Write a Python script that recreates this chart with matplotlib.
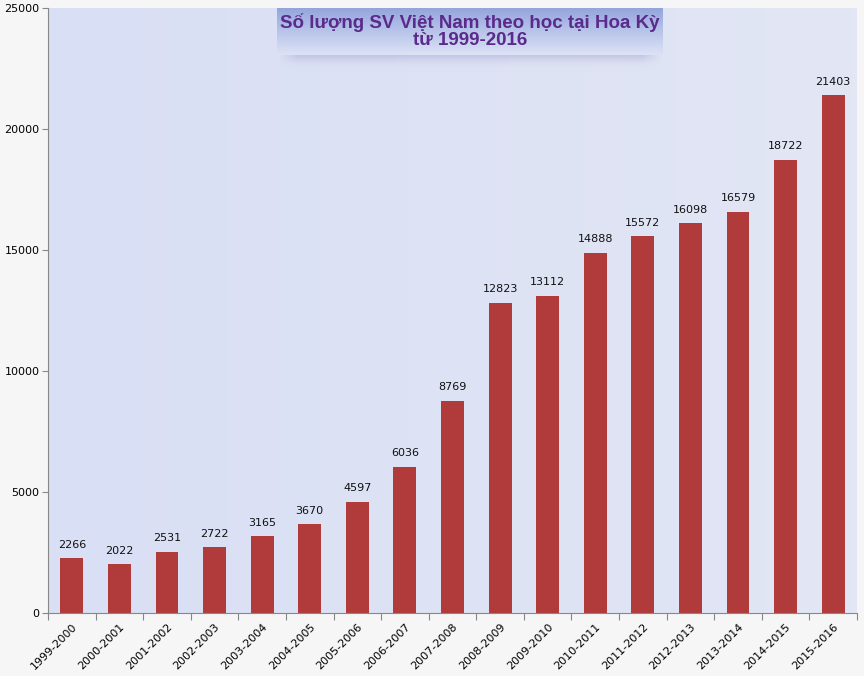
import numpy as np
import matplotlib
matplotlib.use("Agg")
import matplotlib.pyplot as plt

# data
years = ["1999-2000", "2000-2001", "2001-2002", "2002-2003", "2003-2004",
         "2004-2005", "2005-2006", "2006-2007", "2007-2008", "2008-2009",
         "2009-2010", "2010-2011", "2011-2012", "2012-2013", "2013-2014",
         "2014-2015", "2015-2016"]
students = [2266, 2022, 2531, 2722, 3165, 3670, 4597, 6036, 8769, 12823,
            13112, 14888, 15572, 16098, 16579, 18722, 21403]
yticks = [0, 5000, 10000, 15000, 20000, 25000]
title = "Số lượng SV Việt Nam theo học tại Hoa Kỳ\ntừ 1999-2016"

fig = plt.figure(figsize=(8.64, 6.76), dpi=100)
fig.patch.set_facecolor("#f6f6f6")
ax = fig.add_axes([48 / 864, 63 / 676, 809 / 864, 605 / 676])

# plot background, slight gradient
grad = np.linspace(0, 1, 256).reshape(1, -1)
cmap = matplotlib.colors.LinearSegmentedColormap.from_list("bg", ["#d9dff4", "#e2e6f5"])
ax.imshow(grad, extent=[-0.5, len(years) - 0.5, 0, 25000], aspect="auto",
          cmap=cmap, zorder=0, interpolation="bilinear")

x = np.arange(len(years))
ax.bar(x, students, width=0.48, color="#b13b3b", zorder=2)
for xi, v in zip(x, students):
    ax.text(xi, v + 350, str(v), ha="center", va="bottom", fontsize=8, color="#111111")

ax.set_xlim(-0.5, len(years) - 0.5)
ax.set_ylim(0, 25000)
ax.set_yticks(yticks)
ax.set_yticklabels([str(t) for t in yticks], fontsize=8)
ax.set_xticks(np.arange(len(years) + 1) - 0.5)
ax.set_xticklabels([])
ax.set_xticks(x, minor=True)
ax.set_xticklabels(years, minor=True, rotation=45, ha="right", rotation_mode="anchor",
                   fontsize=8)
ax.tick_params(axis="x", which="minor", length=0, pad=6)
ax.tick_params(axis="x", which="major", length=5, color="#888888")
ax.tick_params(axis="y", length=4, color="#888888", pad=2)
for s in ["top", "right"]:
    ax.spines[s].set_visible(False)
ax.spines["left"].set_color("#888888")
ax.spines["bottom"].set_color("#888888")

# soft shadow under the title box
sax = fig.add_axes([278 / 864, 1 - 72 / 676, 384 / 864, 20 / 676])
yy = np.linspace(0, 1, 20)[:, None]
xx = np.linspace(-1, 1, 384)[None, :]
alpha = np.exp(-((1 - yy) / 0.45) ** 2) * np.clip((1 - np.abs(xx)) / 0.1, 0, 1) * 0.55
shadow = np.zeros((20, 384, 4))
shadow[..., :3] = matplotlib.colors.to_rgb("#aeaad6")
shadow[..., 3] = alpha[::-1]
sax.imshow(shadow, extent=[0, 1, 0, 1], aspect="auto", interpolation="bilinear")
sax.set_axis_off()

# title box
tax = fig.add_axes([277 / 864, 1 - 55 / 676, 386 / 864, 47 / 676])
tgrad = np.linspace(0, 1, 256).reshape(-1, 1)
tcmap = matplotlib.colors.LinearSegmentedColormap.from_list("tb", ["#94a5dc", "#dde3f6"])
tax.imshow(tgrad, extent=[0, 1, 0, 1], aspect="auto", cmap=tcmap)
tax.set_axis_off()
tax.text(0.5, 0.5, title, ha="center", va="center", fontsize=13.5, fontweight="bold",
         color="#5a2a8c", family="Liberation Sans", linespacing=1.0,
         transform=tax.transAxes)

fig.savefig("out.png", dpi=100, facecolor=fig.get_facecolor())
